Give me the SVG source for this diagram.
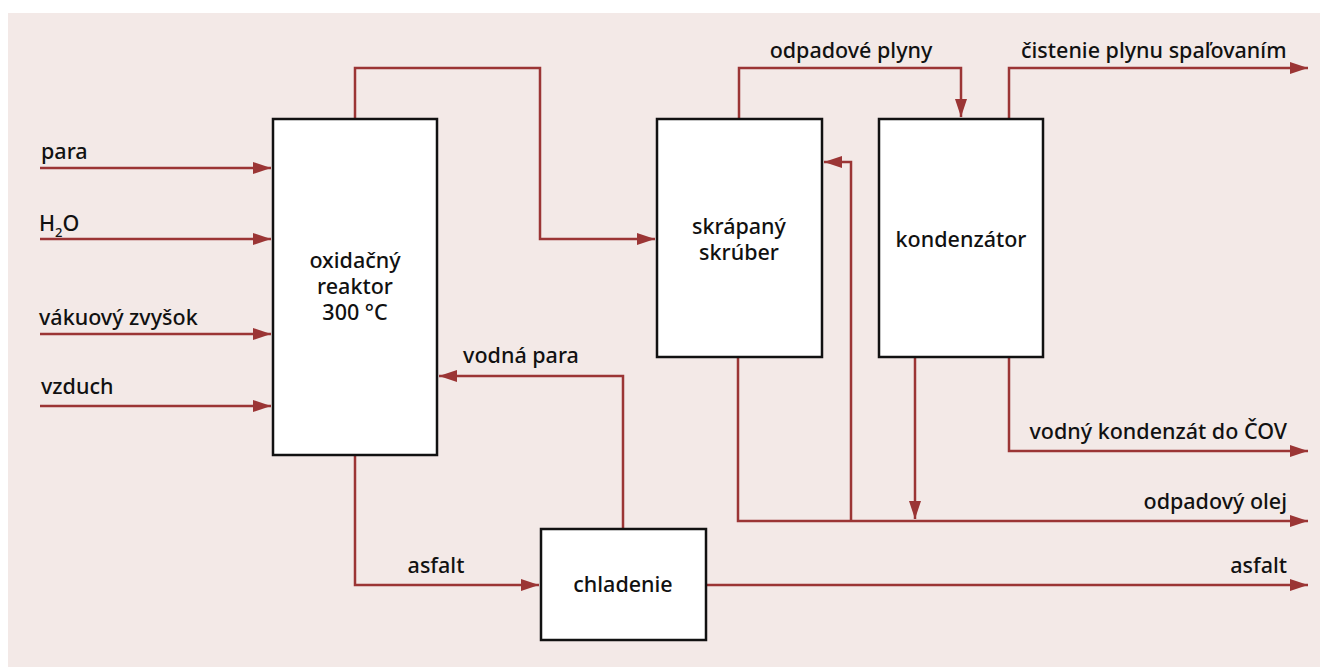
<svg xmlns="http://www.w3.org/2000/svg" width="1328" height="670" viewBox="0 0 1328 670">
<defs>
<marker id="ah" viewBox="0 0 18 12" refX="18" refY="6" markerWidth="18" markerHeight="12" markerUnits="userSpaceOnUse" orient="auto">
<path d="M0,0 L18,6 L0,12 Z" fill="#9b3535"/>
</marker>
<style>
.bg{fill:#f3e9e7}
.box{fill:#fff;stroke:#111;stroke-width:2.5}
.ln{fill:none;stroke:#9b3535;stroke-width:2.5}
.arr{marker-end:url(#ah)}
text{font-family:"Noto Sans","Open Sans","Liberation Sans",sans-serif;font-size:21.5px;font-weight:500;fill:#111}
.c{text-anchor:middle}
.r{text-anchor:end}
</style>
</defs>
<rect class="bg" x="8" y="13" width="1312" height="654"/>
<g id="connectors">
<path class="ln arr" d="M40,168 H271"/>
<path class="ln arr" d="M40,239 H271"/>
<path class="ln arr" d="M40,334 H271"/>
<path class="ln arr" d="M40,406 H271"/>
<path class="ln arr" d="M355,119 V68 H540 V239 H655"/>
<path class="ln arr" d="M739,119 V68 H961 V117"/>
<path class="ln arr" d="M1009,119 V68 H1308"/>
<path class="ln arr" d="M1009,357 V451 H1308"/>
<path class="ln arr" d="M738,357 V521 H1308"/>
<path class="ln arr" d="M851,521 V162 H824"/>
<path class="ln arr" d="M915,357 V519"/>
<path class="ln arr" d="M355,455 V585 H539"/>
<path class="ln arr" d="M706,585 H1308"/>
<path class="ln arr" d="M623,529 V376 H439"/>
</g>
<g id="labels">
<text x="41" y="159">para</text>
<text x="39" y="231">H<tspan font-size="13" dy="6">2</tspan><tspan dy="-6">O</tspan></text>
<text x="39" y="325">vákuový zvyšok</text>
<text x="41" y="394">vzduch</text>
<text x="851" y="58" class="c">odpadové plyny</text>
<text x="1021" y="58">čistenie plynu spaľovaním</text>
<text x="1287" y="439" class="r">vodný kondenzát do ČOV</text>
<text x="1287" y="509" class="r">odpadový olej</text>
<text x="1287" y="573" class="r">asfalt</text>
<text x="436" y="573" class="c">asfalt</text>
<text x="521" y="363" class="c">vodná para</text>
</g>
<g id="reaktor">
<rect class="box" x="273" y="119" width="164" height="336"/>
<text class="c" y="268"><tspan x="355">oxidačný</tspan><tspan x="355" dy="26">reaktor</tspan><tspan x="355" dy="26">300 °C</tspan></text>
</g>
<g id="skruber">
<rect class="box" x="657" y="119" width="165" height="238"/>
<text class="c" y="234"><tspan x="739">skrápaný</tspan><tspan x="739" dy="26">skrúber</tspan></text>
</g>
<g id="kondenzator">
<rect class="box" x="879" y="119" width="164" height="238"/>
<text x="961" y="247" class="c">kondenzátor</text>
</g>
<g id="chladenie">
<rect class="box" x="541" y="529" width="165" height="111"/>
<text x="623" y="592" class="c">chladenie</text>
</g>
</svg>
